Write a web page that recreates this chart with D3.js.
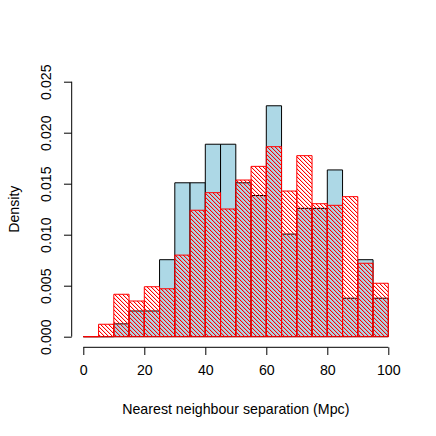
<!DOCTYPE html>
<html>
<head>
<meta charset="utf-8">
<script src="https://cdn.jsdelivr.net/npm/d3@7"></script>
<style>
  body { margin: 0; background: #fff; }
  text { font-family: "Liberation Sans", Arial, sans-serif; fill: #000; }
</style>
</head>
<body>
<div id="chart"></div>
<script>
// bin edges, width 5
var breaks = d3.range(0, 101, 5);
// density of the first sample (light blue)
var blueDensity = [0, 0, 0.00126, 0.00252, 0.00252, 0.00755, 0.01509, 0.01509, 0.01887, 0.01887,
	0.01509, 0.01384, 0.02264, 0.01006, 0.01258, 0.01258, 0.01635, 0.00377, 0.00755, 0.00377];
// density of the second sample (red hatched)
var redDensity = [0, 0.00122, 0.00416, 0.0035, 0.0049, 0.0047, 0.0080, 0.0124, 0.01412, 0.01252,
	0.01536, 0.0167, 0.01863, 0.01428, 0.01775, 0.01304, 0.01288, 0.01373, 0.0072, 0.00524];
var xTicks = [0, 20, 40, 60, 80, 100];
var yTicks = [0, 0.005, 0.01, 0.015, 0.02, 0.025];

var width = 436, height = 436;
var fs = '14.2px';
var svg = d3.select('#chart').append('svg')
	.attr('width', width).attr('height', height);

var x = d3.scaleLinear().domain([0, 100]).range([83.3, 388.3]);
var y = d3.scaleLinear().domain([0, 0.025]).range([336.7, 81.7]);

// hatch pattern, pixel staircase going "\"
var p = 4;
var pat = svg.append('defs').append('pattern')
	.attr('id', 'hatch')
	.attr('patternUnits', 'userSpaceOnUse')
	.attr('width', p).attr('height', p);
d3.range(p).forEach(function(i) {
	pat.append('rect').attr('x', i).attr('y', i).attr('width', 1).attr('height', 1)
		.attr('fill', '#ff0000').attr('shape-rendering', 'crispEdges');
	pat.append('rect').attr('x', (i + 1) % p).attr('y', i).attr('width', 1).attr('height', 1)
		.attr('fill', '#ff0000').attr('fill-opacity', 0.2).attr('shape-rendering', 'crispEdges');
});

function bins(dens) {
	return dens.map(function(d, i) { return {x0: breaks[i], x1: breaks[i + 1], d: d}; });
}

// rect as a closed path so zero-height bins still show their outline
function barPath(d) {
	var l = x(d.x0), r = x(d.x1), t = y(d.d), b = y(0);
	return 'M' + l + ',' + b + 'H' + r + 'V' + t + 'H' + l + 'Z';
}

// light blue histogram
svg.append('g').selectAll('path')
	.data(bins(blueDensity))
	.enter()
	.append('path')
	.attr('d', barPath)
	.attr('fill', '#add8e6')
	.attr('stroke', '#000')
	.attr('stroke-width', 1);

// red hatched histogram on top
svg.append('g').selectAll('path')
	.data(bins(redDensity))
	.enter()
	.append('path')
	.attr('d', barPath)
	.attr('fill', 'url(#hatch)')
	.attr('stroke', '#ff0000')
	.attr('stroke-width', 1);

// x axis
var xAxis = svg.append('g')
	.attr('transform', 'translate(0,347.3)')
	.call(d3.axisBottom(x).tickValues(xTicks).tickSize(7.7).tickPadding(10));
xAxis.select('.domain').attr('d', 'M' + x(0) + ',0H' + x(100));
xAxis.selectAll('text').style('font-size', fs);

// y axis
var yAxis = svg.append('g')
	.attr('transform', 'translate(71.7,0)')
	.call(d3.axisLeft(y).tickValues(yTicks).tickSize(7.7).tickFormat(d3.format('.3f')));
yAxis.select('.domain').attr('d', 'M0,' + y(0) + 'V' + y(0.025));
yAxis.selectAll('.tick text')
	.attr('x', null).attr('dy', null)
	.attr('transform', 'translate(-25.5,0) rotate(-90)')
	.attr('text-anchor', 'middle')
	.attr('dominant-baseline', 'central')
	.style('font-size', fs);
svg.selectAll('.tick line, .domain').attr('stroke', '#000');
svg.selectAll('g text').attr('font-family', null);

// axis titles
svg.append('text')
	.attr('x', x(50)).attr('y', 413.5)
	.attr('text-anchor', 'middle')
	.style('font-size', fs)
	.text('Nearest neighbour separation (Mpc)');

svg.append('text')
	.attr('transform', 'translate(14,' + y(0.0125) + ') rotate(-90)')
	.attr('text-anchor', 'middle')
	.attr('dominant-baseline', 'central')
	.style('font-size', fs)
	.text('Density');
</script>
</body>
</html>
